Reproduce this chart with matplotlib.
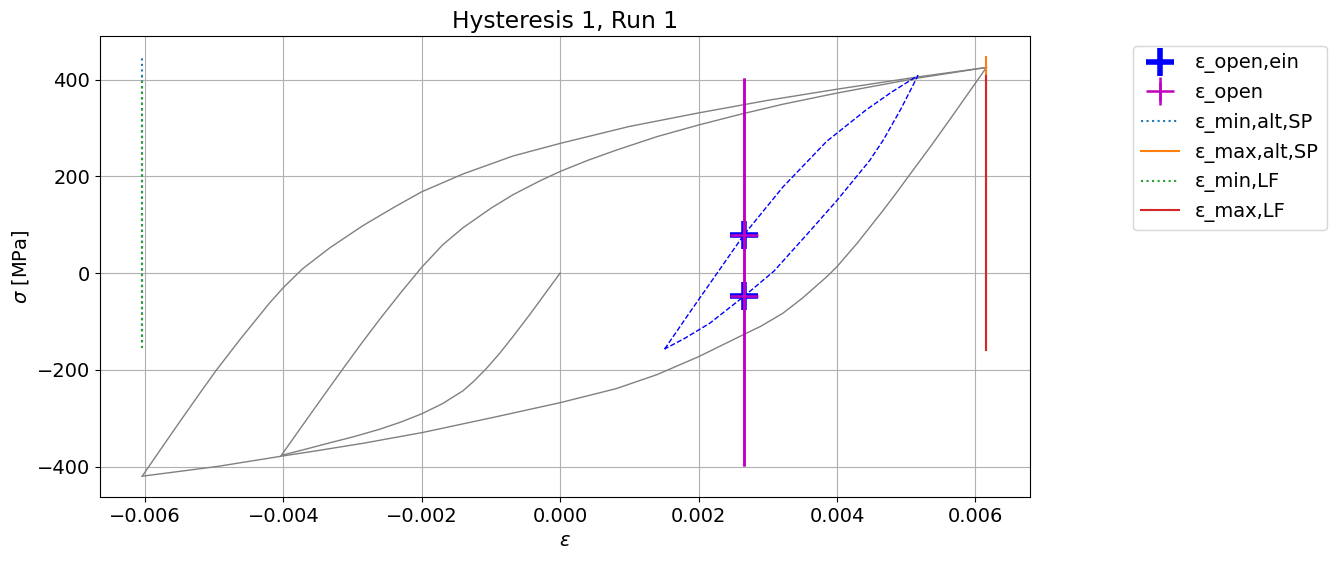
import numpy as np
import matplotlib
matplotlib.use("Agg")
import matplotlib.pyplot as plt

plt.rcParams["font.size"] = 14

# Erstbelastung (0 -> Druck)
eps_a = [0.0, -0.00022, -0.00044, -0.00068, -0.00088, -0.00107, -0.00125, -0.0014, -0.0017, -0.002,
         -0.0023, -0.00261, -0.003, -0.00333, -0.0037, -0.00403]
sig_a = [0.0, -43, -86, -131, -167, -198, -224, -243, -270, -291,
         -308, -323, -339, -351, -365, -377]

# Wiederbelastung von -0.004 bis Maximum
eps_b = [-0.00403, -0.0036, -0.00319, -0.0029, -0.00261, -0.0023, -0.002, -0.0017, -0.0014, -0.001,
         -0.00068, -0.0003, 0.0, 0.0004, 0.00081, 0.0014, 0.002, 0.0026, 0.00322, 0.004, 0.0046,
         0.00517, 0.00616]
sig_b = [-377, -290, -208, -151, -96, -40, 12, 58, 94, 134,
         162, 190, 210, 233, 254, 282, 306, 328, 349, 372, 388,
         403, 425]

# absteigender Ast Maximum -> Minimum
eps_d = [0.00616, 0.0059, 0.00563, 0.00535, 0.00505, 0.00485, 0.00467, 0.0043, 0.004, 0.00385,
         0.0035, 0.00322, 0.0029, 0.00264, 0.002, 0.0014, 0.00081, 0.0, -0.00092,
         -0.002, -0.00285, -0.0035, -0.004, -0.00496, -0.00604]
sig_d = [425, 372, 317, 261, 203, 164, 130, 63, 13, -8,
         -52, -83, -110, -128, -173, -210, -239, -268, -297,
         -330, -352, -367, -378, -400, -420]

# aufsteigender Ast Minimum -> Maximum
eps_e = [-0.00604, -0.0058, -0.0055, -0.0052, -0.00497, -0.00463, -0.0042, -0.004, -0.00372, -0.00333,
         -0.00285, -0.0024, -0.002, -0.0014, -0.00068, 0.0, 0.001, 0.002, 0.003, 0.004, 0.00515, 0.00616]
sig_e = [-420, -370, -308, -247, -201, -138, -62, -30, 9, 52,
         98, 136, 168, 205, 242, 268, 303, 331, 357, 380, 405, 425]

# kleine Hysterese (gestrichelt)
eps_loop = [0.00151, 0.00187, 0.00226, 0.00265, 0.00322, 0.00385, 0.00442, 0.0048, 0.00517,
            0.00492, 0.00467, 0.00447, 0.004, 0.00358, 0.00309, 0.00265, 0.00216, 0.0018, 0.00151]
sig_loop = [-157, -82, -2, 78, 178, 272, 337, 375, 408,
            338, 275, 232, 150, 82, 4, -49, -104, -135, -157]

# Oeffnungspunkte
eps_open = 0.00265
sig_open_ein = [79, -48]
open_lo, open_hi = -399, 403

# Grenzlinien
eps_min_sp, sig_min_sp = -0.00604, (-143, 445)
eps_max_sp, sig_max_sp = 0.00616, (-159, 447)
eps_min_lf, sig_min_lf = -0.00604, (-156, 405)
eps_max_lf, sig_max_lf = 0.00616, (-159, 408)

fig, ax = plt.subplots(figsize=(13.36, 5.61), dpi=100)
fig.subplots_adjust(left=100 / 1336, right=1030 / 1336, top=1 - 36 / 561, bottom=1 - 497 / 561)

for e, s in [(eps_a, sig_a), (eps_b, sig_b), (eps_d, sig_d), (eps_e, sig_e)]:
    ax.plot(e, s, color="gray", linewidth=1)
ax.plot(eps_loop, sig_loop, color="blue", linestyle="--", linewidth=1)

h1, = ax.plot([eps_open] * 2, sig_open_ein, "b+", markersize=20, markeredgewidth=4, label="ε_open,ein")
yerr = [[s - open_lo for s in sig_open_ein], [open_hi - s for s in sig_open_ein]]
h2 = ax.errorbar([eps_open] * 2, sig_open_ein, yerr=yerr, fmt="m+", markersize=20,
                 markeredgewidth=1.8, elinewidth=1.8, linestyle="none", label="ε_open")

h3, = ax.plot([eps_min_sp] * 2, sig_min_sp, color="tab:blue", linestyle=":", label="ε_min,alt,SP")
h4, = ax.plot([eps_max_sp] * 2, sig_max_sp, color="tab:orange", label="ε_max,alt,SP")
h5, = ax.plot([eps_min_lf] * 2, sig_min_lf, color="tab:green", linestyle=":", label="ε_min,LF")
h6, = ax.plot([eps_max_lf] * 2, sig_max_lf, color="tab:red", label="ε_max,LF")

ax.set_xlim(-0.00665, 0.00679)
ax.set_ylim(-463, 490)
ax.set_xlabel(r"$\varepsilon$")
ax.set_ylabel(r"$\sigma$ [MPa]")
ax.set_title("Hysteresis 1, Run 1")
ax.grid(True)
handles = [h1, h2, h3, h4, h5, h6]
ax.legend(handles, [h.get_label() for h in handles], loc="upper left", bbox_to_anchor=(1.1, 1.0))

fig.savefig("out.png", dpi=100)
